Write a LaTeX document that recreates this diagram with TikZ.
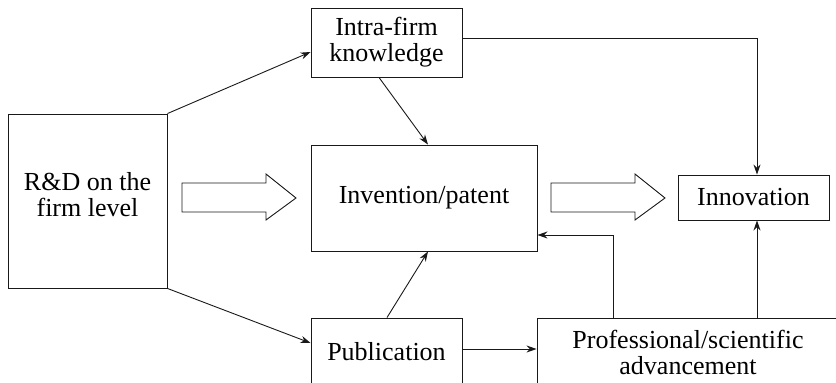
\documentclass[tikz,border=0pt]{standalone}
\usepackage{fontspec}
\setmainfont{Liberation Serif}
\usetikzlibrary{arrows.meta}
\begin{document}
\begin{tikzpicture}[x=1pt,y=-1pt,line width=0.9pt,draw=black!90,
	box/.style={draw,inner sep=0pt,align=center,font=\fontsize{26}{26}\selectfont},
	link/.style={-{Stealth[length=10pt,width=7pt]},line width=0.9pt}]
\clip (0,0) rectangle (836,383);

% blocks
\node[box,minimum width=159pt,minimum height=174pt,text depth=14pt] (rd) at (87.5,201) {R\&D on the\\firm level};
\node[box,minimum width=151pt,minimum height=69pt] (intra) at (386.5,42.5) {Intra-firm\\knowledge};
\node[box,minimum width=226pt,minimum height=106pt] (inv) at (424,198) {Invention/patent};
\node[box,minimum width=151pt,minimum height=45pt] (innov) at (753.5,197.5) {Innovation};
\node[box,minimum width=151pt,minimum height=68pt] (pub) at (386.5,352) {Publication};
\node[box,minimum width=302pt,minimum height=68pt] (prof) at (688,352) {Professional/scientific\\advancement};

% hollow arrows
\draw (182,183) -- (266,183) -- (266,174) -- (296,198) -- (266,220) -- (266,212) -- (182,212) -- cycle;
\draw (551,183) -- (635,183) -- (635,174) -- (665,198) -- (635,220) -- (635,212) -- (551,212) -- cycle;

% links
\draw[link] (rd.north east) -- ([yshift=-9.5pt]intra.west);
\draw[link] (rd.south east) -- ([yshift=9pt]pub.west);
\draw[link] ([xshift=-7.5pt]intra.south) -- ([xshift=4pt]inv.north);
\draw[link] ([yshift=4.5pt]intra.east) -| ([xshift=3.5pt]innov.north);
\draw[link] ([xshift=0.5pt]pub.north) -- ([xshift=4pt]inv.south);
\draw[link] ([yshift=3pt]pub.east) -- ([yshift=3pt]prof.west);
\draw[link] ([xshift=-75pt]prof.north) |- ([yshift=-37pt]inv.east);
\draw[link] ([xshift=69pt]prof.north) -- ([xshift=3.5pt]innov.south);

\end{tikzpicture}
\end{document}
